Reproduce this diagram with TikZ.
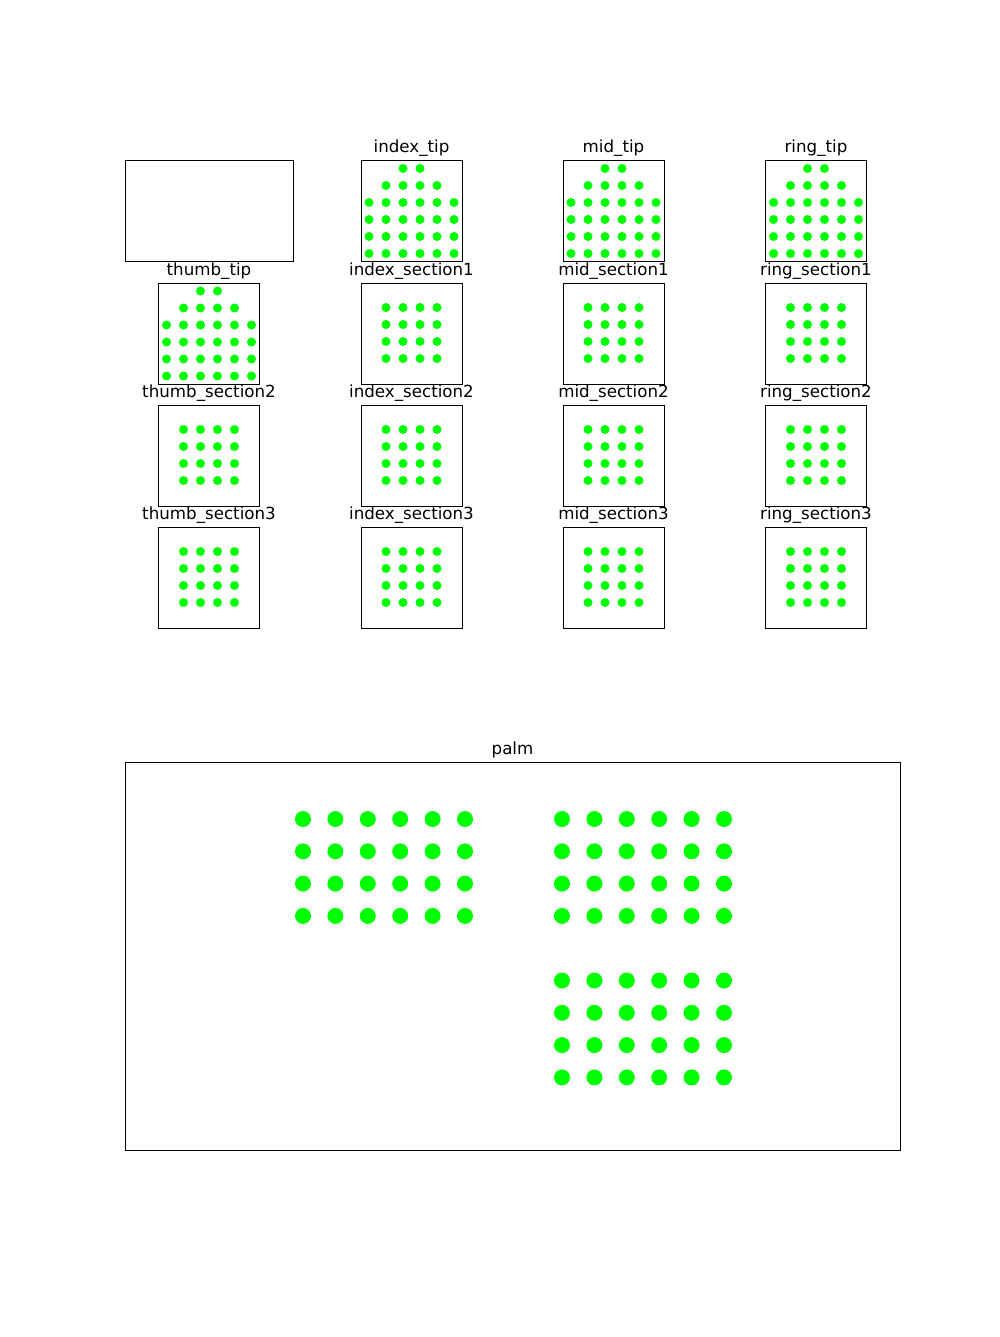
\documentclass[tikz,border=0pt]{standalone}
\usepackage{fontspec}
\setmainfont{DejaVu Sans}
\usepackage{xcolor}
\definecolor{dotgreen}{HTML}{00FF00}

\begin{document}
\begin{tikzpicture}[x=0.025cm, y=-0.025cm,
    panel/.style={draw=black, line width=0.6pt},
    paneltitle/.style={anchor=base, inner sep=0pt, font=\fontsize{11.86}{14}\selectfont},
    smalldot/.style={fill=dotgreen, draw=none},
  ]
  \useasboundingbox (0,0) rectangle (1000,1337);

  % empty corner panel
  \draw[panel] (125,160.5) rectangle (293,261.5);

  % fingertips
  \foreach \fname/\cx/\top in {index/411.5/160.5, mid/613.5/160.5, ring/816/160.5, thumb/209/283} {
    \draw[panel] (\cx-50.5,\top) rectangle (\cx+50.5,\top+101);
    \node[paneltitle] (\fname tip) at (\cx,\top-8) {\fname\_tip};
    \foreach \dx in {-8.5,8.5}
      \fill[smalldot] (\cx+\dx,\top+8) circle (4.5);
    \foreach \dx in {-25.5,-8.5,8.5,25.5}
      \fill[smalldot] (\cx+\dx,\top+25) circle (4.5);
    \foreach \k in {2,...,5}
      \foreach \dx in {-42.5,-25.5,-8.5,8.5,25.5,42.5}
        \fill[smalldot] (\cx+\dx,\top+8+17*\k) circle (4.5);
  }

  % finger sections
  \foreach \fname/\cx/\sec/\top in {index/411.5/1/283, mid/613.5/1/283, ring/816/1/283,
      thumb/209/2/405, index/411.5/2/405, mid/613.5/2/405, ring/816/2/405,
      thumb/209/3/527, index/411.5/3/527, mid/613.5/3/527, ring/816/3/527} {
    \draw[panel] (\cx-50.5,\top) rectangle (\cx+50.5,\top+101);
    \node[paneltitle] (\fname sec\sec) at (\cx,\top-8) {\fname\_section\sec};
    \foreach \k in {0,...,3}
      \foreach \dx in {-25.5,-8.5,8.5,25.5}
        \fill[smalldot] (\cx+\dx,\top+24.5+17*\k) circle (4.5);
  }

  % palm
  \draw[panel] (125,762) rectangle (900,1150);
  \node[paneltitle] (palm) at (512.5,754) {palm};
  \foreach \gx/\gy in {303/819, 562/819, 562/980.5}
    \foreach \i in {0,...,5}
      \foreach \j in {0,...,3}
        \fill[smalldot] (\gx+32.4*\i,\gy+32.3*\j) circle (8);
\end{tikzpicture}
\end{document}
